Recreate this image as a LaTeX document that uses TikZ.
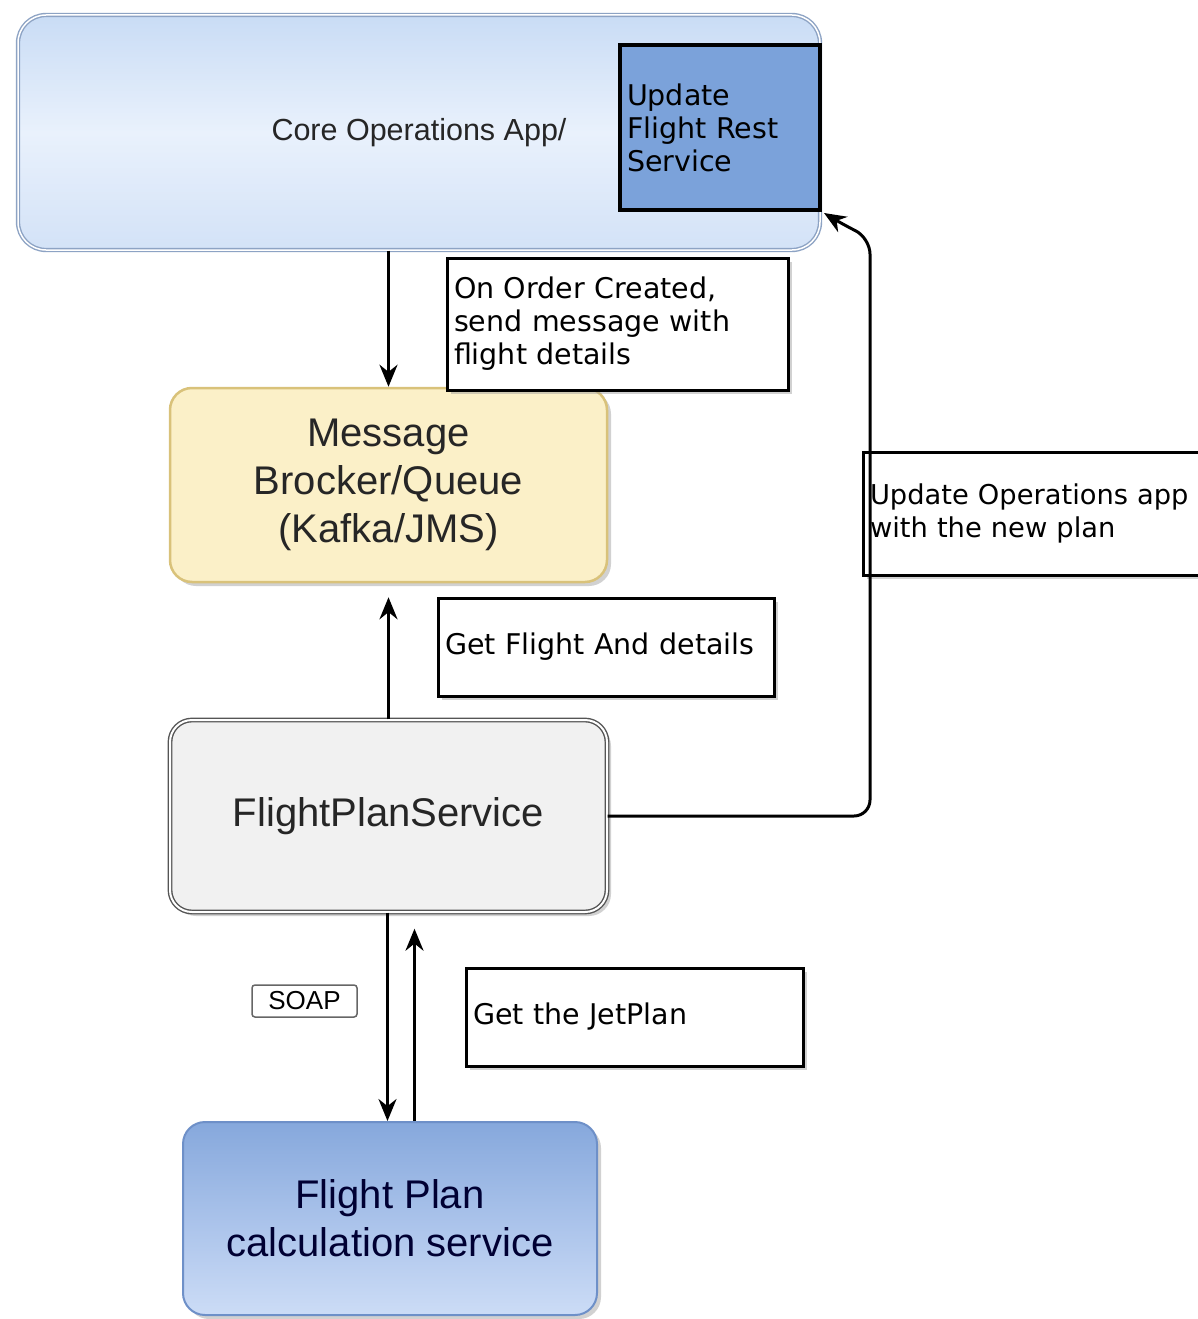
\documentclass[tikz,border=0pt]{standalone}
\usepackage{fontspec}
\setmainfont{Liberation Sans}
\newfontfamily\notefont{DejaVu Sans}
\usetikzlibrary{arrows.meta,shadows}

\definecolor{coreTop}{HTML}{C9DCF5}
\definecolor{coreMid}{HTML}{E9F1FC}
\definecolor{coreBot}{HTML}{D3E2F7}
\definecolor{coreEdge}{HTML}{8DA3C4}
\definecolor{restFill}{HTML}{7BA2DA}
\definecolor{msgFill}{HTML}{FBF0C8}
\definecolor{msgEdge}{HTML}{D9C27A}
\definecolor{fpsFill}{HTML}{F1F1F1}
\definecolor{fpsEdge}{HTML}{555555}
\definecolor{calcTop}{HTML}{86A8DC}
\definecolor{calcMid}{HTML}{A9C2EA}
\definecolor{calcBot}{HTML}{CCDCF6}
\definecolor{calcEdge}{HTML}{6E90C8}

\tikzset{
  softshadow/.style={drop shadow={shadow xshift=4pt,shadow yshift=-4pt,fill=black!40,opacity=.45}},
  bigtext/.style={font=\fontsize{40}{48}\selectfont, align=center, text=black!85},
  corebox/.style={rounded corners=28pt, draw=coreEdge, double=white, double distance=1.5pt,
    line width=1.4pt, top color=coreTop, bottom color=coreBot, middle color=coreMid},
  restbox/.style={draw=black, line width=4pt, fill=restFill, align=left,
    font=\notefont\fontsize{28.5}{33}\selectfont, inner sep=7pt},
  msgbox/.style={rounded corners=22pt, draw=msgEdge, line width=2.5pt, fill=msgFill, softshadow, bigtext},
  fpsbox/.style={rounded corners=22pt, draw=fpsEdge, double=white, double distance=2pt,
    line width=1.4pt, fill=fpsFill, softshadow, bigtext},
  calcbox/.style={rounded corners=22pt, draw=calcEdge, line width=2pt,
    top color=calcTop, bottom color=calcBot, middle color=calcMid, softshadow, bigtext},
  notebox/.style={draw=black, line width=3pt, fill=white, align=left, softshadow,
    font=\notefont\fontsize{28.5}{33}\selectfont, inner sep=7pt},
  tagbox/.style={draw=black!60, line width=1.5pt, rounded corners=3pt, fill=white,
    font=\fontsize{26}{30}\selectfont, inner sep=2pt, minimum width=105pt, minimum height=32pt},
  arr/.style={line width=3pt, -{Stealth[length=22pt,width=18pt]}},
}

\begin{document}
\begin{tikzpicture}[x=1pt,y=-1pt]
  \useasboundingbox[fill=white] (0,0) rectangle (1198,1319);

  % application and services
  \node[corebox, minimum width=802pt, minimum height=235pt,
        font=\fontsize{30.5}{36}\selectfont, text=black!85] (core) at (419,132.5) {Core Operations App/};
  \node[restbox, text width=186pt, minimum height=165pt] (rest) at (720,127.5)
       {Update\\Flight Rest\\Service};

  \node[msgbox, minimum width=437pt, minimum height=194pt] (msg) at (388.5,485)
       {Message\\Brocker/Queue\\(Kafka/JMS)};
  \node[fpsbox, minimum width=437pt, minimum height=192pt] (fps) at (388.5,816)
       {FlightPlanService};
  \node[calcbox, minimum width=414pt, minimum height=193pt, text=black!80!blue] (calc) at (390,1218.5)
       {Flight Plan\\calculation service};

  % annotations
  \node[notebox, text width=327pt, minimum height=132pt] (order) at (617.5,324)
       {On Order Created,\\send message with\\flight details};
  \node[notebox, text width=322pt, minimum height=98pt] (getfl) at (606,647)
       {Get Flight And details};
  \node[notebox, text width=338pt, minimum height=123pt,
        font=\notefont\fontsize{27.3}{33}\selectfont] (updops) at (1039,513.5)
       {Update Operations app\\with the new plan};
  \node[notebox, text width=323pt, minimum height=98pt] (jet) at (634.5,1017)
       {Get the JetPlan};
  \node[tagbox] (soap) at (304.5,1001) {SOAP};

  % message flow
  \draw[arr] (core.south -| msg.north) -- (msg.north);
  \draw[arr, shorten >=14pt] (fps.north) -- (msg.south);
  \draw[arr] ([xshift=-1pt]fps.south) -- ([xshift=-1pt]fps.south |- calc.north);
  \draw[arr, shorten >=16pt] ([xshift=26pt]fps.south |- calc.north) -- ([xshift=26pt]fps.south);
  \draw[arr, rounded corners=16pt] (fps.east)
       -| ([shift={(48pt,-26pt)}]rest.south east)
       -- ([shift={(20pt,-12pt)}]rest.south east)
       -- ([shift={(2pt,-1pt)}]rest.south east);
\end{tikzpicture}
\end{document}
